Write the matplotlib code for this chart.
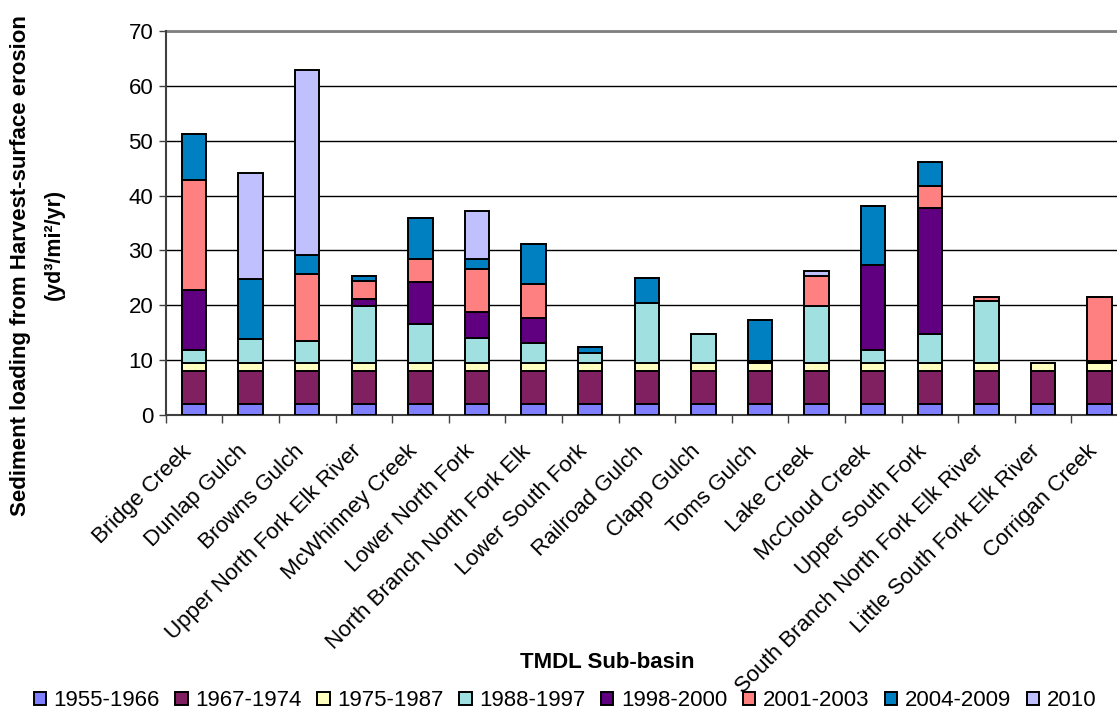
import matplotlib.pyplot as plt
import matplotlib.transforms as mtransforms
import numpy as np

plt.rcParams['font.family'] = ['Liberation Sans', 'DejaVu Sans']

basins = ['Bridge Creek', 'Dunlap Gulch', 'Browns Gulch', 'Upper North Fork Elk River',
          'McWhinney Creek', 'Lower North Fork', 'North Branch North Fork Elk',
          'Lower South Fork', 'Railroad Gulch', 'Clapp Gulch', 'Toms Gulch', 'Lake Creek',
          'McCloud Creek', 'Upper South Fork', 'South Branch North Fork Elk River',
          'Little South Fork Elk River', 'Corrigan Creek']

periods = ['1955-1966', '1967-1974', '1975-1987', '1988-1997',
           '1998-2000', '2001-2003', '2004-2009', '2010']

p1955 = [2.0] * 17
p1967 = [6.0] * 17
p1975 = [1.5] * 17
p1988 = [2.3, 4.3, 4.0, 10.4, 7.0, 4.6, 3.7, 1.8, 10.9, 5.3, 0.0, 10.4, 2.3, 5.3, 11.3, 0.0, 0.0]
p1998 = [11.0, 0.0, 0.0, 1.2, 7.7, 4.6, 4.4, 0.0, 0.0, 0.0, 0.3, 0.0, 15.5, 22.9, 0.0, 0.0, 0.3]
p2001 = [20.1, 0.0, 12.2, 3.3, 4.3, 8.0, 6.3, 0.0, 0.0, 0.0, 0.0, 5.4, 0.0, 4.1, 0.8, 0.0, 11.8]
p2004 = [8.3, 11.0, 3.4, 1.0, 7.5, 1.8, 7.2, 1.1, 4.5, 0.0, 7.6, 0.0, 10.8, 4.3, 0.0, 0.0, 0.0]
p2010 = [0.0, 19.3, 33.7, 0.0, 0.0, 8.7, 0.0, 0.0, 0.0, 0.0, 0.0, 1.0, 0.0, 0.0, 0.0, 0.0, 0.0]

series = [p1955, p1967, p1975, p1988, p1998, p2001, p2004, p2010]
colors = ['#8080FF', '#802060', '#FFFFC0', '#A0E0E0', '#600080', '#FF8080', '#0080C0', '#C0C0FF']

fig = plt.figure(figsize=(11.17, 7.15), dpi=100)
# plot area runs past the right edge in the original
ax = fig.add_axes([165.7 / 1117, 1 - 415 / 715, 17 * 56.6 / 1117, 384 / 715])

x = np.arange(len(basins))
bottom = np.zeros(len(basins))
for vals, col, lab in zip(series, colors, periods):
    vals = np.array(vals)
    ax.bar(x, vals, 0.43, bottom=bottom, color=col, edgecolor='black',
           linewidth=1.4, label=lab, zorder=3)
    bottom += vals

ax.set_xlim(-0.5, len(basins) - 0.5)
ax.set_ylim(0, 70)
ax.set_yticks(np.arange(0, 71, 10))
ax.tick_params(axis='y', labelsize=16, length=5, width=1, color='#404040', pad=4)
ax.yaxis.grid(True, color='black', linewidth=1, zorder=0)
ax.set_axisbelow(True)

# category boundaries get the tick marks, names sit at the bar centres
ax.set_xticks(x - 0.5)
ax.set_xticklabels([])
ax.tick_params(axis='x', length=6, width=1, color='#404040')
ax.set_xticks(x, minor=True)
ax.set_xticklabels(basins, minor=True, rotation=45, ha='right', va='center',
                   rotation_mode='anchor', fontsize=16)
ax.tick_params(axis='x', which='minor', length=0, pad=24)
shift = mtransforms.ScaledTranslation(-6 / 100, 0, fig.dpi_scale_trans)
for lbl in ax.get_xticklabels(minor=True):
    lbl.set_transform(lbl.get_transform() + shift)

for s in ['top', 'right']:
    ax.spines[s].set_visible(False)
ax.spines['left'].set_color('#404040')
ax.spines['left'].set_linewidth(1.5)
ax.spines['bottom'].set_color('#404040')
ax.spines['bottom'].set_linewidth(1.5)
ax.axhline(70, color='#808080', linewidth=2, zorder=1, clip_on=False)

fig.text(21 / 1117, 1 - 266 / 715, 'Sediment loading from Harvest-surface erosion',
         rotation=90, ha='center', va='center', fontsize=16, fontweight='bold')
fig.text(54 / 1117, 1 - 244 / 715, '(yd³/mi²/yr)',
         rotation=90, ha='center', va='center', fontsize=15.5, fontweight='bold')
fig.text(607 / 1117, 1 - 663 / 715, 'TMDL Sub-basin', ha='center', va='center',
         fontsize=16, fontweight='bold')

fig.legend(loc='center', bbox_to_anchor=(565 / 1117, 1 - 701 / 715), ncol=8,
           frameon=False, fontsize=16, handlelength=0.55, handleheight=0.55,
           handletextpad=0.35, columnspacing=0.7, borderpad=0)

plt.savefig('out.png', dpi=100)
